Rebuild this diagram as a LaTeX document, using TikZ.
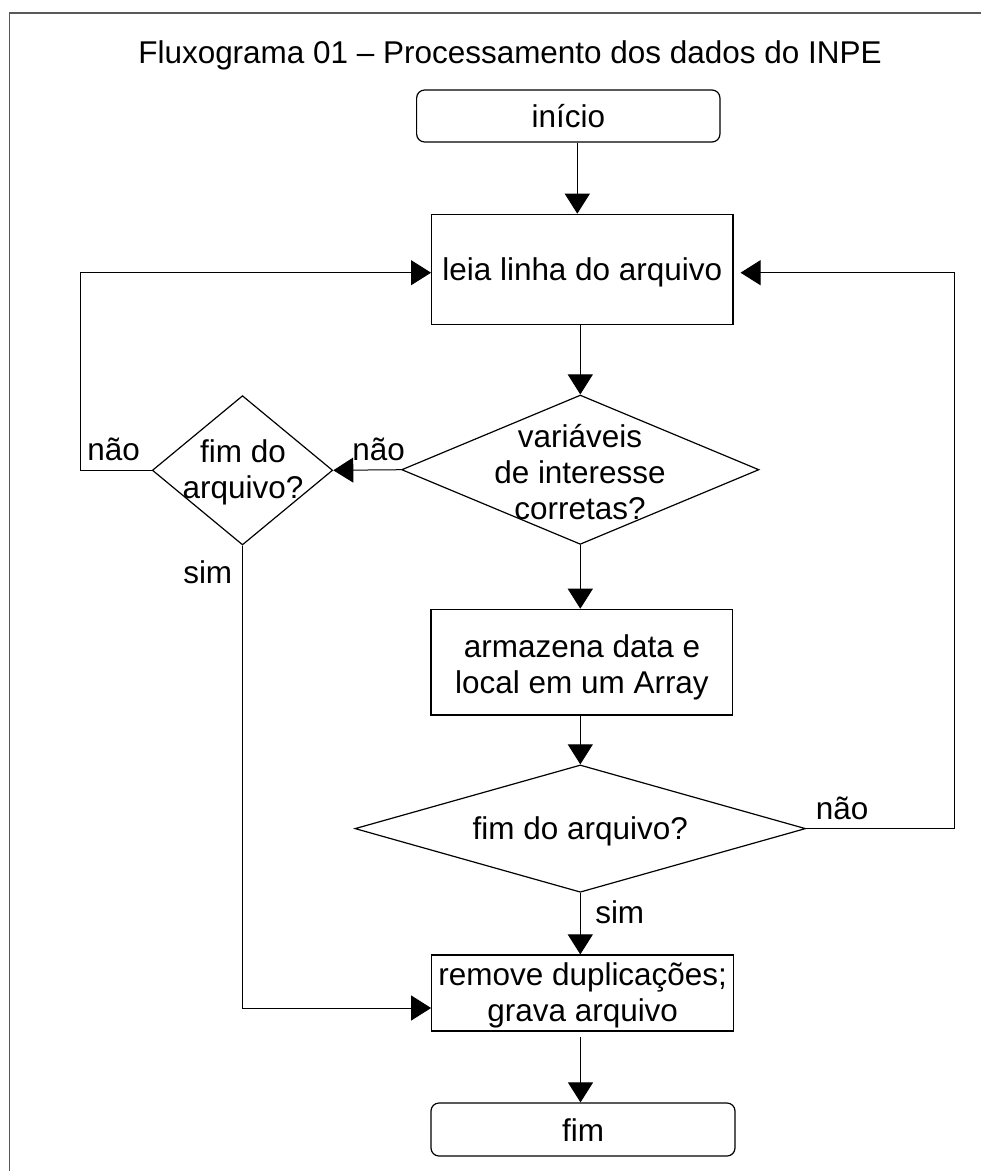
\documentclass[tikz,border=0pt]{standalone}
\usepackage{fontspec}
\setmainfont{Liberation Sans}
\usetikzlibrary{arrows.meta,shapes.geometric}
\begin{document}
\begin{tikzpicture}[x=0.75pt,y=-0.75pt,
  every node/.style={font=\fontsize{23.6pt}{27pt}\selectfont},
  boxnode/.style={draw,line width=0.9pt,rectangle,inner sep=0pt},
  termnode/.style={draw,line width=0.9pt,rectangle,rounded corners=6pt,inner sep=0pt},
  decnode/.style={draw,line width=0.9pt,diamond,inner sep=0pt},
  txt/.style={inner sep=0pt,align=center},
  lbl/.style={inner sep=0pt},
  arr/.style={line width=0.75pt,-{Triangle[length=15pt,width=18.75pt]}},
  framecol/.style={draw=black!65,line width=1.2pt}]
\useasboundingbox (0,0) rectangle (981,1171);
\draw[framecol] (9.5,1171) -- (9.5,12.7) -- (981,12.7);

\node[anchor=base,inner sep=0pt] (title) at (510,63.3) {Fluxograma 01 – Processamento dos dados do INPE};

\node[termnode,minimum width=227.5pt,minimum height=39pt] (start) at (568.3,116) {};
\node[lbl,anchor=base] (startt) at (568.3,127.7) {início};

\node[boxnode,minimum width=226pt,minimum height=82.5pt] (read) at (582.3,269.3) {};
\node[lbl,anchor=base] (readt) at (582.3,280) {leia linha do arquivo};

\node[decnode,minimum width=268pt,minimum height=112pt] (d1) at (580.3,469.7) {};
\node[txt] (d1t) at (580,472) {variáveis\\de interesse\\corretas?};

\node[decnode,minimum width=135.3pt,minimum height=112pt] (d2) at (242.5,470.3) {};
\node[txt] (d2t) at (243,472) {fim do\\arquivo?};

\node[boxnode,minimum width=226.3pt,minimum height=79.3pt] (store) at (581.8,662.2) {};
\node[txt] (storet) at (582,667) {armazena data e\\local em um Array};

\node[decnode,minimum width=338pt,minimum height=95.5pt] (d3) at (580.3,828.6) {};
\node[lbl,anchor=base] (d3t) at (580.3,839) {fim do arquivo?};

\node[boxnode,minimum width=226.5pt,minimum height=57pt] (remove) at (582.7,993) {};
\node[txt] (removet) at (582.7,995) {remove duplicações;\\grava arquivo};

\node[termnode,minimum width=228pt,minimum height=39.75pt] (fim) at (583,1129.5) {};
\node[lbl,anchor=base] (fimt) at (583,1141) {fim};

% labels
\node[lbl,anchor=base west] (l1) at (87,460.7) {não};
\node[lbl,anchor=base west] (l2) at (352,460.7) {não};
\node[lbl,anchor=base west] (l3) at (183,583) {sim};
\node[lbl,anchor=base west] (l4) at (815.7,819.3) {não};
\node[lbl,anchor=base west] (l5) at (595,923.3) {sim};

% helper coordinates
\coordinate (colA) at (577.3,0);
\coordinate (colB) at (580.5,0);
\coordinate (ltop) at (80.7,272.7);
\coordinate (rtop) at (954.3,272.7);
\coordinate (lbot) at (0,1008);

% connectors
\draw[arr] (start.south -| colA) -- (read.north -| colA);
\draw[arr] (read.south -| d1.north) -- (d1.north);
\draw[arr] (d1.west) -- (d2.east);
\draw[arr] (d2.west) -| (ltop) -- (read.west |- ltop);
\draw[arr] (d1.south) -- (store.north -| d1.south);
\draw[arr] (store.south -| d3.north) -- (d3.north);
\draw[arr,shorten >=5.25pt] (d3.east) -| (rtop) -- (read.east |- rtop);
\draw[arr] (d3.south) -- (remove.north -| d3.south);
\draw[arr] (d2.south) |- (remove.west |- lbot);
\draw[arr,shorten <=4pt] (remove.south -| colB) -- (fim.north -| colB);
\end{tikzpicture}
\end{document}
